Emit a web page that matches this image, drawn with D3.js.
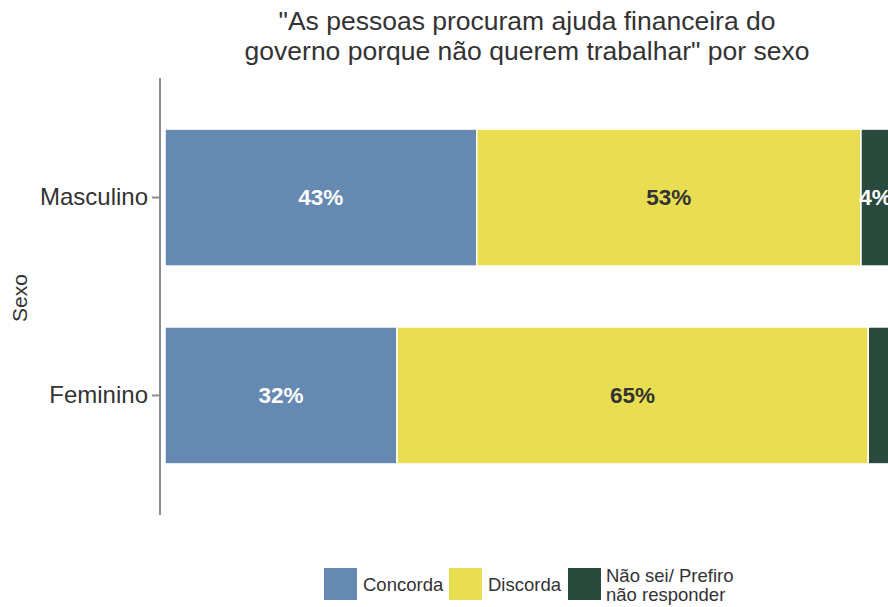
<!DOCTYPE html>
<html>
<head>
<meta charset="utf-8">
<script src="https://cdn.jsdelivr.net/npm/d3@7"></script>
<style>
  body { margin: 0; background: #fff; }
  svg { font-family: Arial, "Liberation Sans", sans-serif; }
</style>
</head>
<body>
<div id="chart"></div>
<script>
const sexos = ["Masculino", "Feminino"];
const respostas = ["Concorda", "Discorda", "Não sei/ Prefiro não responder"];
const concorda = [43, 32];
const discorda = [53, 65];
const naoSei = [4, 3];
const cores = ["#6689b2", "#e9de52", "#2b4a3e"];

const width = 888, height = 607;

const svg = d3.select("#chart").append("svg")
    .attr("width", width)
    .attr("height", height);

// build rows for the stack
const rows = sexos.map((s, i) => ({
    sexo: s,
    "Concorda": concorda[i],
    "Discorda": discorda[i],
    "Não sei/ Prefiro não responder": naoSei[i]
}));
const series = d3.stack().keys(respostas)(rows);

const x = d3.scaleLinear().domain([0, 100]).range([165, 890]);
const y = d3.scaleBand().domain(sexos).range([78, 515]).paddingInner(0.308).paddingOuter(0.258);
const color = d3.scaleOrdinal().domain(respostas).range(cores);

// title
svg.append("text")
    .attr("x", 527).attr("y", 30)
    .attr("text-anchor", "middle")
    .style("font-size", "26.5px").style("fill", "#333")
    .selectAll("tspan")
    .data(["\"As pessoas procuram ajuda financeira do", "governo porque não querem trabalhar\" por sexo"])
    .enter().append("tspan")
    .attr("x", 527)
    .attr("dy", (d, i) => i ? 30 : 0)
    .text(d => d);

// bars
const g = svg.append("g");
g.selectAll("g.serie")
    .data(series)
    .enter().append("g")
    .attr("fill", d => color(d.key))
    .selectAll("rect")
    .data(d => d)
    .enter().append("rect")
    .attr("x", d => x(d[0]))
    .attr("y", d => y(d.data.sexo))
    .attr("width", d => x(d[1]) - x(d[0]))
    .attr("height", y.bandwidth())
    .attr("stroke", "#fff")
    .attr("stroke-width", 1.5);

// labels
series.forEach((s, k) => {
    g.selectAll("text.l" + k)
        .data(s.filter(d => d[1] - d[0] >= 4))
        .enter().append("text")
        .attr("x", d => x((d[0] + d[1]) / 2))
        .attr("y", d => y(d.data.sexo) + y.bandwidth() / 2)
        .attr("dy", "0.35em")
        .attr("text-anchor", "middle")
        .style("font-size", "22.5px").style("font-weight", "bold")
        .style("fill", k === 1 ? "#333" : "#fff")
        .text(d => Math.round(d[1] - d[0]) + "%");
});

// y axis
const yAxis = svg.append("g")
    .attr("transform", "translate(160,0)")
    .call(d3.axisLeft(y).tickSize(8).tickPadding(4));
yAxis.select(".domain").attr("d", "M0,78V515").attr("stroke", "#8c8c8c").attr("stroke-width", 2);
yAxis.selectAll(".tick line").attr("stroke", "#8c8c8c").attr("stroke-width", 2);
yAxis.selectAll(".tick text").style("font-size", "24px").style("fill", "#333")
    .style("font-family", "Arial, 'Liberation Sans', sans-serif");

svg.append("text")
    .attr("transform", "translate(27,298) rotate(-90)")
    .attr("text-anchor", "middle")
    .style("font-size", "21px").style("fill", "#333")
    .text("Sexo");

// legend
const legendX = [324, 449, 568];
const leg = svg.append("g");
respostas.forEach((r, i) => {
    leg.append("rect")
        .attr("x", legendX[i]).attr("y", 568)
        .attr("width", 33).attr("height", 32)
        .attr("fill", color(r));
    const t = leg.append("text")
        .attr("x", legendX[i] + 39)
        .style("font-size", "18.5px").style("fill", "#333");
    if (i < 2) {
        t.attr("y", 591).text(r);
    } else {
        t.append("tspan").attr("x", legendX[i] + 38).attr("y", 582).text("Não sei/ Prefiro");
        t.append("tspan").attr("x", legendX[i] + 38).attr("y", 601).text("não responder");
    }
});
</script>
</body>
</html>
